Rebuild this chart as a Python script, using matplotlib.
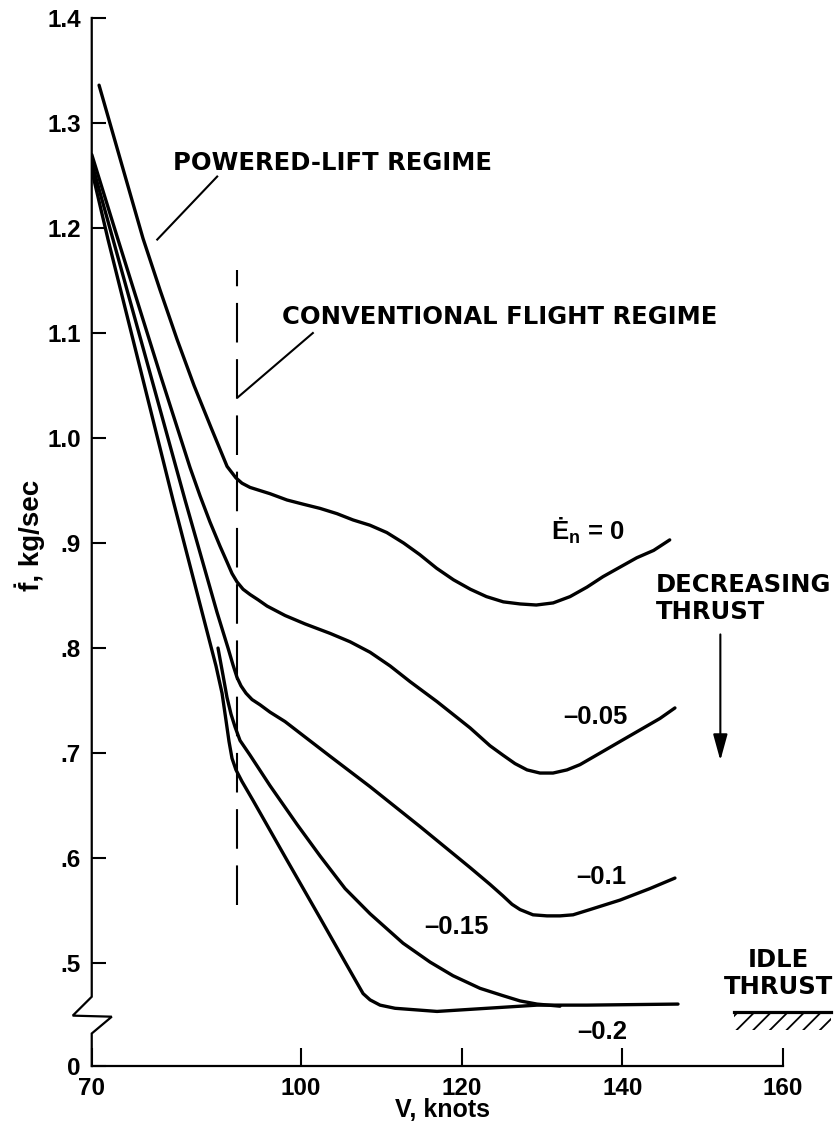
import numpy as np
import matplotlib
matplotlib.use("Agg")
from matplotlib import pyplot as plt
from matplotlib.patches import Rectangle
from matplotlib.ticker import NullLocator

plt.rcParams['font.family'] = ['Liberation Sans', 'DejaVu Sans']
plt.rcParams['font.weight'] = 'bold'
plt.rcParams['mathtext.fontset'] = 'custom'
plt.rcParams['mathtext.rm'] = 'Liberation Sans:bold'
plt.rcParams['mathtext.it'] = 'Liberation Sans:bold'
plt.rcParams['mathtext.bf'] = 'Liberation Sans:bold'
plt.rcParams['hatch.linewidth'] = 1.3

# fuel flow (kg/sec) against airspeed (knots) for several specific energy rates
v_en0 = [71.05, 74.20, 77.36, 79.80, 82.24, 84.68, 87.12, 89.42, 90.0, 90.70, 91.56, 92.71, 94.14,
         95.58, 98.02, 100.3, 102.4, 104.5, 106.5, 108.6, 110.7, 112.8, 114.8, 116.9, 119.0, 121.1,
         123.1, 125.2, 127.3, 129.3, 131.4, 133.5, 135.6, 137.6, 139.7, 141.8, 143.9, 145.9]
f_en0 = [1.336, 1.263, 1.190, 1.141, 1.094, 1.050, 1.010, 0.973, 0.968, 0.962, 0.957, 0.953, 0.950,
         0.947, 0.941, 0.937, 0.933, 0.928, 0.922, 0.917, 0.910, 0.900, 0.889, 0.876, 0.865, 0.856,
         0.849, 0.844, 0.842, 0.841, 0.843, 0.849, 0.858, 0.868, 0.877, 0.886, 0.893, 0.903]

v_m005 = [70.0, 73.77, 79.80, 84.10, 85.54, 86.97, 88.41, 89.41, 90.13, 90.85, 91.72, 92.72, 93.87,
          95.16, 97.75, 100.53, 103.64, 106.13, 108.62, 111.11, 113.60, 116.95, 121.06, 123.54,
          125.16, 126.65, 128.15, 129.76, 131.38, 133.12, 134.74, 137.23, 139.71, 142.20, 144.69, 146.55]
f_m005 = [1.270, 1.189, 1.061, 0.972, 0.945, 0.920, 0.897, 0.882, 0.871, 0.863, 0.856, 0.851, 0.846,
          0.840, 0.831, 0.823, 0.814, 0.806, 0.796, 0.783, 0.768, 0.749, 0.724, 0.707,
          0.698, 0.690, 0.684, 0.681, 0.681, 0.684, 0.689, 0.700, 0.711, 0.722, 0.733, 0.743]

v_m01 = [70.0, 73.06, 78.36, 83.39, 87.98, 89.56, 90.27, 90.85, 91.42, 92.14, 93.00, 94.15, 95.58,
         97.74, 99.89, 103.64, 108.62, 114.84, 121.06, 123.54, 125.16, 126.28, 127.28, 128.89,
         130.63, 132.25, 133.87, 135.98, 139.71, 143.44, 146.55]
f_m01 = [1.262, 1.189, 1.062, 0.941, 0.834, 0.800, 0.784, 0.772, 0.764, 0.757, 0.751, 0.746, 0.739,
         0.730, 0.719, 0.697, 0.668, 0.630, 0.591, 0.575, 0.564, 0.556, 0.551, 0.546,
         0.545, 0.545, 0.546, 0.551, 0.560, 0.571, 0.581]

v_m015 = [88.12, 88.84, 89.41, 89.99, 90.56, 91.28, 92.72, 95.58, 99.47, 102.40, 105.51, 108.62,
          112.72, 116.08, 118.94, 122.30, 125.16, 127.28, 129.39, 132.25]
f_m015 = [0.800, 0.774, 0.753, 0.737, 0.725, 0.712, 0.698, 0.669, 0.632, 0.602, 0.571, 0.547,
          0.519, 0.501, 0.488, 0.476, 0.469, 0.464, 0.461, 0.459]

v_m02 = [70.0, 72.34, 81.66, 86.97, 87.83, 88.70, 89.27, 89.70, 90.13, 90.70, 91.56, 93.14, 98.02,
         102.40, 105.51, 107.00, 107.75, 108.62, 109.86, 111.73, 116.95, 123.17, 129.39, 135.61, 146.93]
f_m02 = [1.255, 1.189, 0.941, 0.805, 0.783, 0.757, 0.731, 0.711, 0.695, 0.684, 0.673, 0.655, 0.598,
         0.543, 0.501, 0.481, 0.471, 0.465, 0.460, 0.457, 0.454, 0.457, 0.460, 0.460, 0.461]

curve_labels = ['Ė$_\\mathrm{n}$ = 0', '–0.05', '–0.1', '–0.15', '–0.2']
label_v = [135.7, 136.6, 137.4, 119.4, 137.5]
label_f = [0.912, 0.734, 0.582, 0.534, 0.434]

x_ticks = [70, 100, 120, 140, 160]
x_ticklabels = ['70', '100', '120', '140', '160']
y_ticks = [0, 0.5, 0.6, 0.7, 0.8, 0.9, 1.0, 1.1, 1.2, 1.3, 1.4]
y_ticklabels = ['0', '.5', '.6', '.7', '.8', '.9', '1.0', '1.1', '1.2', '1.3', '1.4']

regime_v = 90.8          # boundary between powered-lift and conventional flight
regime_f = [0.555, 1.160]
idle_f = 0.453           # idle thrust level
idle_v = [153.9, 166.0]

# broken axes: 70-100 kt squeezed, 0-0.42 kg/sec squeezed
V_SQUEEZE = 0.867
F_BREAK = 0.42
F_ZERO_AT = 0.402


def v_fwd(v):
    v = np.asarray(v, dtype=float)
    return np.where(v < 100, 100 - (100 - v) * V_SQUEEZE, v)


def v_inv(v):
    v = np.asarray(v, dtype=float)
    return np.where(v < 100, 100 - (100 - v) / V_SQUEEZE, v)


def f_fwd(f):
    f = np.asarray(f, dtype=float)
    return np.where(f < F_BREAK, F_ZERO_AT + f * (F_BREAK - F_ZERO_AT) / F_BREAK, f)


def f_inv(f):
    f = np.asarray(f, dtype=float)
    return np.where(f < F_BREAK, (f - F_ZERO_AT) * F_BREAK / (F_BREAK - F_ZERO_AT), f)


fig = plt.figure(figsize=(8.34, 11.3), dpi=100)
ax = fig.add_axes([0.110, 0.0566, 0.8289, 0.9275])
ax.set_xscale('function', functions=(v_fwd, v_inv))
ax.set_yscale('function', functions=(f_fwd, f_inv))
ax.set_xlim(70, 160)
ax.set_ylim(0, 1.4)

lw = 2.4
for v, f in [(v_en0, f_en0), (v_m005, f_m005), (v_m01, f_m01), (v_m015, f_m015), (v_m02, f_m02)]:
    ax.plot(v, f, color='k', lw=lw, solid_capstyle='round', solid_joinstyle='round')

for text, v, f in zip(curve_labels, label_v, label_f):
    ax.text(v, f, text, ha='center', va='center', fontsize=18.5)

caps = dict(family=['DejaVu Sans'], fontsize=17.5, weight='bold')

# regime boundary and its call-outs
ax.plot([regime_v, regime_v], regime_f, color='k', lw=1.5, dashes=(19, 8))
ax.plot([79.4, 88.0], [1.189, 1.249], color='k', lw=1.5)
ax.text(81.7, 1.262, 'POWERED-LIFT REGIME', ha='left', va='center', **caps)
ax.plot([91.0, 101.5], [1.039, 1.100], color='k', lw=1.5)
ax.text(97.3, 1.115, 'CONVENTIONAL FLIGHT REGIME', ha='left', va='center', **caps)

ax.text(144.2, 0.847, 'DECREASING\nTHRUST', ha='left', va='center', linespacing=1.15, **caps)
ax.annotate('', xy=(152.2, 0.693), xytext=(152.2, 0.813),
            arrowprops=dict(arrowstyle='-|>,head_length=0.8,head_width=0.22', lw=1.5,
                            color='k', mutation_scale=20, shrinkA=0, shrinkB=0))

# idle thrust floor
ax.text(159.4, 0.490, 'IDLE\nTHRUST', ha='center', va='center', linespacing=1.15, **caps)
ax.plot(idle_v, [idle_f, idle_f], color='k', lw=2.3, clip_on=False)
ax.add_patch(Rectangle((idle_v[0], idle_f - 0.017), idle_v[1] - idle_v[0], 0.017,
                       fill=False, hatch='//', edgecolor='k', linewidth=0, clip_on=False))

# axes
for side in ['top', 'right', 'left']:
    ax.spines[side].set_visible(False)
ax.spines['bottom'].set_linewidth(1.6)
ax.plot([0, 0, -0.0275, 0.029, 0, 0], [1.4, 0.468, 0.450, 0.449, 0.433, 0.0],
        color='k', lw=1.6, transform=ax.get_yaxis_transform(), clip_on=False,
        solid_joinstyle='miter')

ax.set_xticks(x_ticks)
ax.set_xticklabels(x_ticklabels)
ax.set_yticks(y_ticks)
ax.set_yticklabels(y_ticklabels)
ax.xaxis.set_minor_locator(NullLocator())
ax.yaxis.set_minor_locator(NullLocator())
ax.tick_params(axis='x', direction='in', length=13, width=1.5, pad=8, labelsize=17.5)
ax.tick_params(axis='y', direction='in', length=10, width=1.5, pad=8, labelsize=17.5)

fig.text(442 / 834, 1 - 1110 / 1130, 'V, knots', ha='center', va='center', fontsize=18)
fig.text(30 / 834, 1 - 535 / 1130, 'ḟ, kg/sec', ha='center', va='center', rotation=90, fontsize=20)

fig.savefig('out.png', dpi=100, facecolor='white')
